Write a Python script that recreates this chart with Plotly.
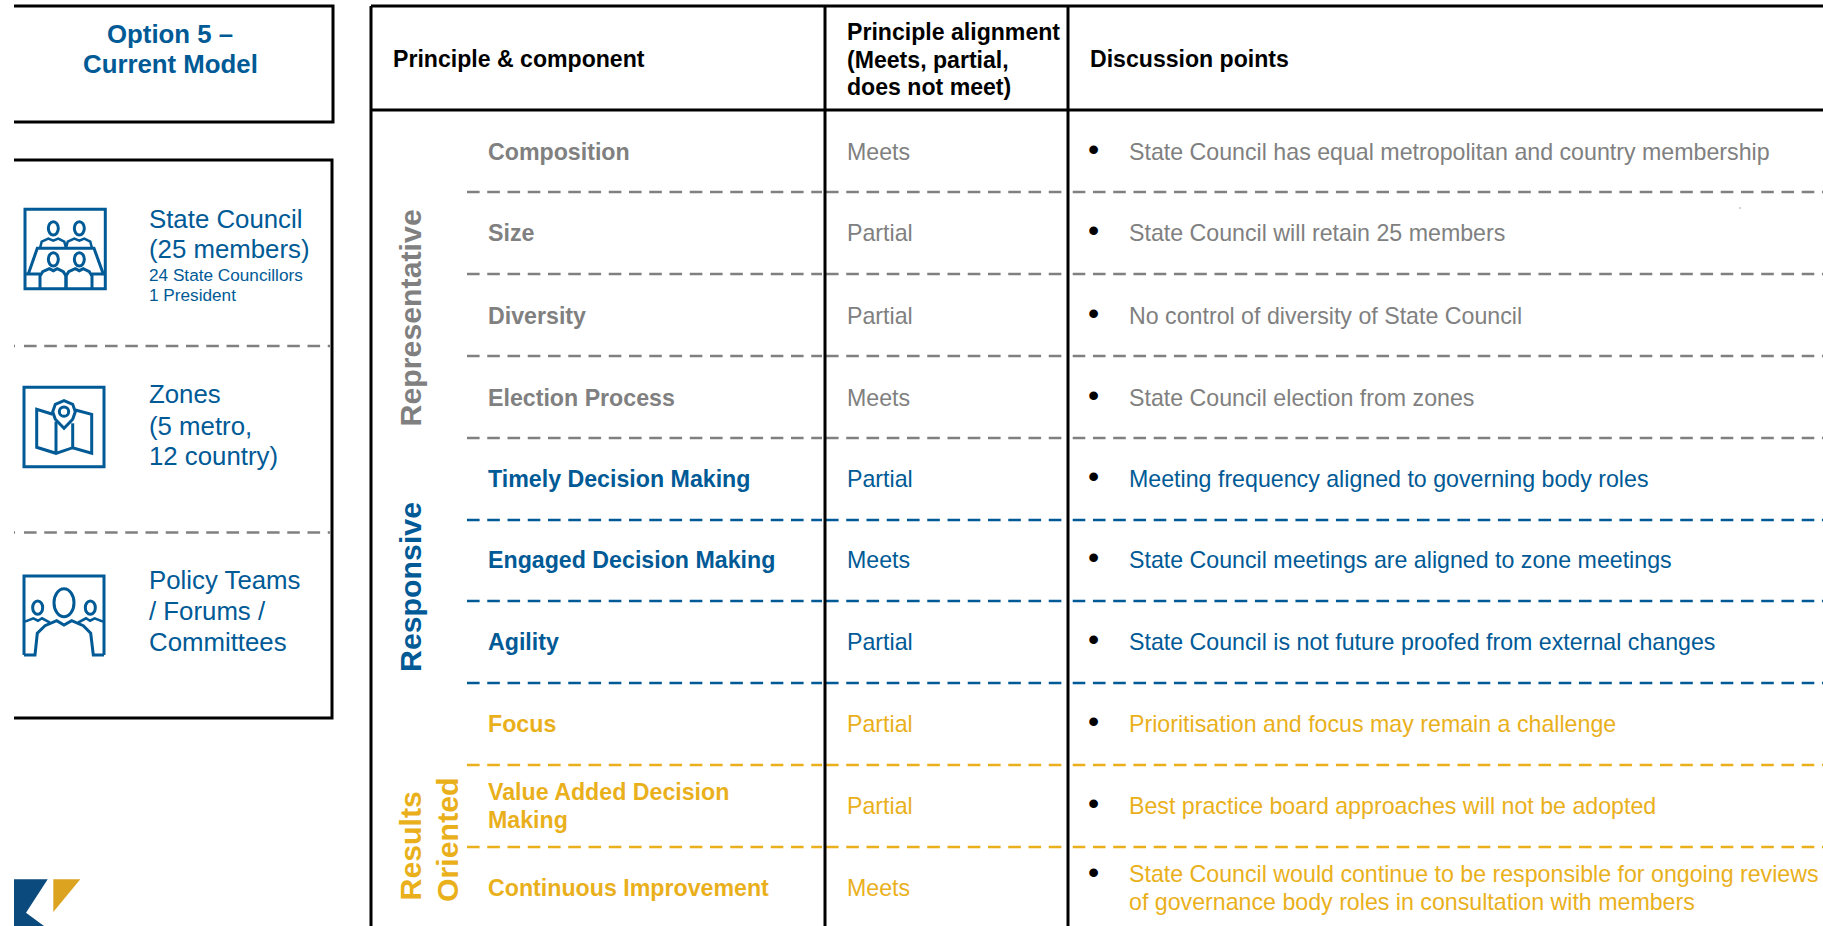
import plotly.graph_objects as go

# ---------- content ----------
GREY = "#808080"
BLUE = "#005a96"
GOLD = "#e9b01c"
BLACK = "#000000"

components = ["Composition", "Size", "Diversity", "Election Process",
              "Timely Decision Making", "Engaged Decision Making", "Agility",
              "Focus", "Value Added Decision<br>Making", "Continuous Improvement"]
alignment = ["Meets", "Partial", "Partial", "Meets", "Partial", "Meets", "Partial",
             "Partial", "Partial", "Meets"]
discussion = ["State Council has equal metropolitan and country membership",
              "State Council will retain 25 members",
              "No control of diversity of State Council",
              "State Council election from zones",
              "Meeting frequency aligned to governing body roles",
              "State Council meetings are aligned to zone meetings",
              "State Council is not future proofed from external changes",
              "Prioritisation and focus may remain a challenge",
              "Best practice board approaches will not be adopted",
              "State Council would continue to be responsible for ongoing reviews|of governance body roles in consultation with members"]
row_colors = [GREY] * 4 + [BLUE] * 3 + [GOLD] * 3
header_lines = ["Principle alignment", "(Meets, partial,", "does not meet)"]

# ---------- layout geometry ----------
W, H = 1823, 926
FONT = "Liberation Sans"
TABLE_L, TABLE_T, HEAD_B = 371, 6, 110
COL1, COL2 = 825, 1068
ROW_LINES = [192, 274, 356, 438, 520, 601, 683, 765, 847]
ROW_MID = [151.5, 233, 315.5, 397.5, 479, 560, 642, 724, 806, 888]
BODY = 23.2
HEAD = 23.1

shapes, annos = [], []


def line(x0, y0, x1, y1, color=BLACK, width=3, dash=None):
    shapes.append(dict(type="line", xref="x", yref="y", x0=x0, y0=y0, x1=x1, y1=y1,
                       line=dict(color=color, width=width, dash=dash)))


def text(x, y, s, size, color, bold=False, xanchor="left", angle=0):
    if bold:
        s = "<b>" + s + "</b>"
    annos.append(dict(x=x, y=y, xref="x", yref="y", text=s, showarrow=False, xanchor=xanchor,
                      yanchor="middle", textangle=angle, align="left",
                      font=dict(family=FONT, size=size, color=color),
                      borderpad=0, borderwidth=0))


DASH = "12.6px,7.65px"
LW = 2.6
# row dashes per column
for i, y in enumerate(ROW_LINES):
    c = row_colors[i]
    line(467, y, COL1 - 3, y, c, LW, DASH)
    line(COL1 + 1, y, COL2 - 2.5, y, c, LW, DASH)
    line(COL2 + 4.7, y, W, y, c, LW, DASH)

# left dashes
for y in (346, 532.5):
    line(14, y, 15, y, GREY, LW)
    line(24, y, 330, y, GREY, LW, DASH)

# boxes
for pts in [[(14, 6), (333, 6), (333, 122), (14, 122)],
            [(14, 160), (332, 160), (332, 718), (14, 718)]]:
    shapes.append(dict(type="path", xref="x", yref="y",
                       path="M" + " L".join(f"{a} {b}" for a, b in pts),
                       line=dict(color=BLACK, width=3)))
line(TABLE_L, TABLE_T, W, TABLE_T)
line(TABLE_L, HEAD_B, W, HEAD_B)
line(TABLE_L, TABLE_T, TABLE_L, H)
line(COL1, TABLE_T, COL1, H)
line(COL2, TABLE_T, COL2, H)
# stray dot
line(1739.5, 208, 1740.5, 208, "#555555", 1)

# left panel text
text(170, 33.5, "Option 5 –", 25.8, BLUE, True, "center")
text(170, 64, "Current Model", 25.8, BLUE, True, "center")
text(149, 218.5, "State Council", 25.8, BLUE)
text(149, 249, "(25 members)", 25.8, BLUE)
text(148.5, 275, "24 State Councillors", 17.2, BLUE)
text(148.5, 295, "1 President", 17.2, BLUE)
for y, s in zip([394, 425.5, 456], ["Zones", "(5 metro,", "12 country)"]):
    text(149, y, s, 25.8, BLUE)
for y, s in zip([580, 611, 642], ["Policy Teams", "/ Forums /", "Committees"]):
    text(149, y, s, 25.8, BLUE)

# header
text(393, 59, "Principle &amp; component", HEAD, BLACK, True)
for y, s in zip([31.5, 59.5, 87], header_lines):
    text(846.5, y, s, HEAD, BLACK, True)
text(1090, 59, "Discussion points", HEAD, BLACK, True)

# principles
text(410, 318.5, "Representative", 30.3, GREY, True, "center", -90)
text(410, 587, "Responsive", 30.3, BLUE, True, "center", -90)
text(410, 846.5, "Results", 30.3, GOLD, True, "center", -90)
text(447, 840, "Oriented", 30.3, GOLD, True, "center", -90)

# rows
for i, mid in enumerate(ROW_MID):
    c = row_colors[i]
    comp = components[i].split("<br>")
    if len(comp) == 2:
        text(488, mid - 14, comp[0], BODY, c, True)
        text(488, mid + 14, comp[1], BODY, c, True)
    else:
        text(488, mid, comp[0], BODY, c, True)
    text(846.5, mid, alignment[i], BODY, c)
    parts = discussion[i].split("|")
    if len(parts) == 2:
        text(1093.3, mid - 16.5, "•", 32, BLACK, False, "center")
        text(1129, mid - 14, parts[0], BODY, c)
        text(1129, mid + 14, parts[1], BODY, c)
    else:
        text(1093.3, mid - 3, "•", 32, BLACK, False, "center")
        text(1129, mid, parts[0], BODY, c)


# ---------- icons (coordinates measured on 3x crops) ----------
def poly(points, ox=0, oy=0, color=BLUE, width=3, close=False, fill=None):
    p = "M" + " L".join(f"{ox + a / 3:.1f} {oy + b / 3:.1f}" for a, b in points)
    if close:
        p += " Z"
    d = dict(type="path", xref="x", yref="y", path=p, line=dict(color=color, width=width))
    if fill:
        d["fillcolor"] = fill
        d["line"] = dict(width=0)
    shapes.append(d)


def ell(cx, cy, rx, ry, oy=0, width=3):
    shapes.append(dict(type="circle", xref="x", yref="y", x0=(cx - rx) / 3, x1=(cx + rx) / 3,
                       y0=oy + (cy - ry) / 3, y1=oy + (cy + ry) / 3,
                       line=dict(color=BLUE, width=width)))


# icon 1 - council
poly([(75, 628), (316, 628), (316, 866), (75, 866)], close=True)
for x in (160, 238):
    ell(x, 685, 15, 20)
    ell(x, 778, 15, 20)
poly([(85, 822), (112, 745), (282, 745), (310, 822)])
poly([(78, 822), (120, 822)])
poly([(276, 822), (314, 822)])
for a in (120, 198):
    poly([(a, 745), (a + 5, 725), (a + 25, 716), (a + 40, 722), (a + 55, 716), (a + 73, 725), (a + 78, 745)], width=2.5)
    poly([(a, 864), (a, 828), (a + 8, 815), (a + 28, 806), (a + 40, 812), (a + 52, 806), (a + 70, 815), (a + 78, 828), (a + 78, 864)])

# icon 2 - map
OY2 = 360
poly([(72, 82), (312, 82), (312, 320), (72, 320)], oy=OY2, close=True)
poly([(158, 163), (110, 148), (110, 262), (168, 280), (218, 263), (275, 280), (275, 163), (226, 150)], oy=OY2)
poly([(168, 185), (168, 280)], oy=OY2)
poly([(218, 190), (218, 263)], oy=OY2)
poly([(192, 205), (166, 178), (158, 155), (166, 133), (192, 122), (218, 133), (226, 155), (218, 178)], oy=OY2, close=True)
ell(192, 155, 14, 14, OY2)

# icon 3 - people
poly([(72, 885), (72, 648), (312, 648), (312, 885)], oy=OY2)
poly([(72, 885), (105, 885), (112, 820), (135, 797), (170, 782), (192, 795), (215, 782), (250, 797),
      (272, 820), (280, 885), (312, 885)], oy=OY2)
ell(192, 728, 30, 42, OY2)
ell(113, 743, 15, 20, OY2)
ell(271, 743, 15, 20, OY2)
poly([(75, 785), (100, 775), (114, 782), (126, 775), (150, 788)], oy=OY2, width=2.5)
poly([(309, 785), (284, 775), (270, 782), (258, 775), (234, 788)], oy=OY2, width=2.5)

# logo
poly([(42, 478), (143, 478), (78, 578), (132, 618), (42, 618)], oy=720, close=True, fill="#0b4a7d")
poly([(160, 478), (241, 478), (160, 576)], oy=720, close=True, fill="#dba320")

fig = go.Figure()
fig.update_layout(
    width=W, height=H, margin=dict(l=0, r=0, t=0, b=0),
    paper_bgcolor="white", plot_bgcolor="white", showlegend=False,
    xaxis=dict(range=[0, W], visible=False, fixedrange=True),
    yaxis=dict(range=[H, 0], visible=False, fixedrange=True),
    shapes=shapes, annotations=annos,
)
fig.write_html("out.html", config=dict(displayModeBar=False),
               post_script="document.body.style.margin='0';document.body.style.overflow='hidden';")
